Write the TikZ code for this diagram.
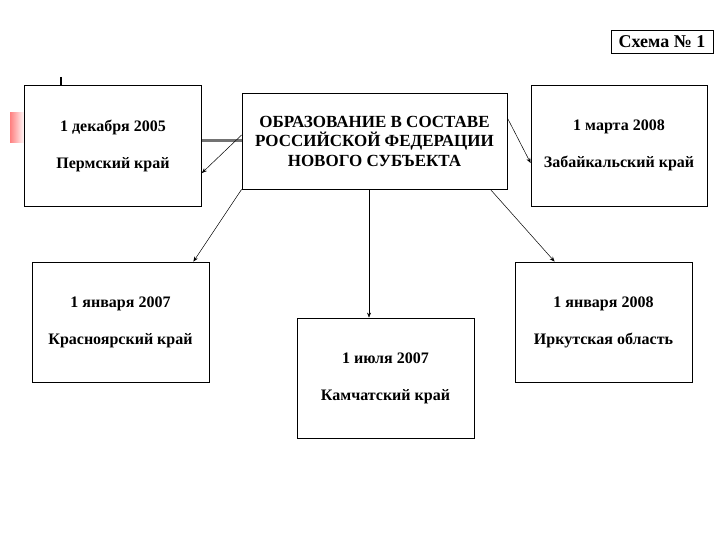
\documentclass[tikz,border=0pt]{standalone}
\usepackage{fontspec}
\setmainfont{Liberation Serif}
\usetikzlibrary{arrows.meta}
\begin{document}
\begin{tikzpicture}[x=1pt,y=-1pt,
  box/.style={draw, line width=0.8pt, inner sep=0pt, align=center,
    font=\bfseries\fontsize{16}{18}\selectfont},
  link/.style={line width=0.5pt, -{Stealth[length=5pt,width=4pt]}},
  bar/.style={line width=3pt, draw=black!55}]
\useasboundingbox (0,0) rectangle (720,540);
% decorative marks
\shade[left color=red!50, right color=red!3] (10,113) rectangle (24,143);
\draw[line width=2.5pt] (61,77) -- (61,85);
% boxes
\node[box, minimum width=102pt, minimum height=23pt,
  font=\bfseries\fontsize{18}{20}\selectfont] (schema) at (662,41.5) {Схема № 1};
\node[box, minimum width=177pt, minimum height=121pt] (perm) at (113,145.5)
  {1 декабря 2005\\[19pt]Пермский край};
\node[box, minimum width=265pt, minimum height=96pt,
  font=\bfseries\fontsize{17}{19.5}\selectfont] (center) at (374.5,141)
  {ОБРАЗОВАНИЕ В СОСТАВЕ\\РОССИЙСКОЙ ФЕДЕРАЦИИ\\НОВОГО СУБЪЕКТА};
\node[box, minimum width=176pt, minimum height=121pt] (zab) at (619,145.5)
  {1 марта 2008\\[19pt]Забайкальский край};
\node[box, minimum width=177pt, minimum height=120pt] (kras) at (120.5,322)
  {1 января 2007\\[19pt]Красноярский край};
\node[box, minimum width=177pt, minimum height=120pt] (kam) at (385.5,378)
  {1 июля 2007\\[19pt]Камчатский край};
\node[box, minimum width=177pt, minimum height=120pt] (irk) at (603.5,322)
  {1 января 2008\\[19pt]Иркутская область};
% connectors
\draw[bar] (perm.east |- center.west) -- (center.west);
\draw[link] ([yshift=6pt]center.west) -- ([yshift=-27.5pt]perm.east);
\draw[link] (center.south west) -- ([xshift=-16pt]kras.north east);
\draw[link] ([xshift=-5.5pt]center.south) -- ([xshift=-5.5pt]center.south |- kam.north);
\draw[link] ([xshift=-17pt]center.south east) -- ([xshift=40pt]irk.north west);
\draw[link] ([yshift=23pt]center.east) -- ([yshift=-17.5pt]zab.west);
\end{tikzpicture}
\end{document}
